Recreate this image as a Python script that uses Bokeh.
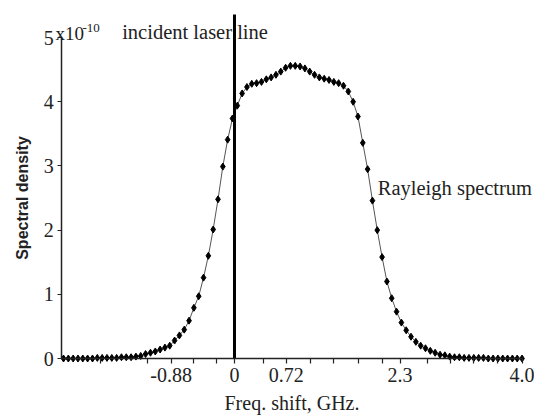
from bokeh.plotting import figure
from bokeh.models import Range1d, FixedTicker, Label, ColumnDataSource
from bokeh.embed import file_html
from bokeh.resources import INLINE

# ---- data ----
freq_ghz = [-2.375, -2.308, -2.241, -2.174, -2.107, -2.040, -1.972, -1.905, -1.838, -1.771,
            -1.704, -1.637, -1.570, -1.503, -1.436, -1.369, -1.302, -1.235, -1.167, -1.100,
            -1.033, -0.966, -0.899, -0.832, -0.765, -0.698, -0.631, -0.564, -0.497, -0.430,
            -0.363, -0.296, -0.229, -0.162, -0.095, -0.028, 0.039, 0.106, 0.173, 0.240,
            0.307, 0.375, 0.442, 0.509, 0.576, 0.643, 0.710, 0.777, 0.844, 0.911,
            0.978, 1.045, 1.112, 1.179, 1.246, 1.313, 1.380, 1.447, 1.514, 1.581,
            1.648, 1.715, 1.782, 1.849, 1.916, 1.983, 2.050, 2.117, 2.184, 2.251,
            2.318, 2.385, 2.452, 2.519, 2.586, 2.653, 2.720, 2.787, 2.855, 2.922,
            2.989, 3.056, 3.123, 3.190, 3.257, 3.324, 3.391, 3.458, 3.525, 3.592,
            3.659, 3.726, 3.793, 3.860, 3.927, 3.994]
density_e10 = [0.00, 0.00, 0.00, 0.00, 0.00, 0.00, 0.00, 0.01, 0.01, 0.01,
               0.01, 0.01, 0.02, 0.02, 0.02, 0.03, 0.04, 0.07, 0.09, 0.11,
               0.14, 0.17, 0.20, 0.28, 0.36, 0.45, 0.59, 0.79, 0.97, 1.26,
               1.60, 2.01, 2.48, 2.99, 3.41, 3.74, 3.94, 4.13, 4.23, 4.28,
               4.29, 4.31, 4.35, 4.38, 4.42, 4.47, 4.53, 4.56, 4.56, 4.55,
               4.52, 4.47, 4.42, 4.38, 4.36, 4.34, 4.31, 4.29, 4.25, 4.16,
               4.00, 3.77, 3.36, 2.95, 2.46, 2.00, 1.58, 1.20, 0.94, 0.73,
               0.56, 0.44, 0.34, 0.26, 0.20, 0.16, 0.12, 0.09, 0.06, 0.05,
               0.03, 0.02, 0.02, 0.01, 0.01, 0.01, 0.01, 0.01, 0.00, 0.00,
               0.00, 0.00, 0.00, 0.00, 0.00, 0.00]

x_tick_values = [-0.88, 0, 0.72, 2.3, 4.0]
x_tick_labels = ["-0.88", "0", "0.72", "2.3", "4.0"]
x_minor_ticks = [-1.86, -1.21, -0.57, -0.25, 0.40, 1.06, 1.38, 1.72, 2.06, 2.68, 3.0, 3.32, 3.65]
y_tick_values = [0, 1, 2, 3, 4, 5]
x_axis_start, x_axis_end = -2.40, 4.0
y_axis_start, y_axis_end = 0, 5
laser_line_ghz = 0.0
laser_line_top = 5.36

SERIF = "Liberation Serif"
INK = "#222222"

p = figure(width=534, height=419, output_backend="svg", toolbar_location=None,
           x_range=Range1d(-3.25, 4.167), y_range=Range1d(-0.950, 5.578),
           min_border_left=0, min_border_right=0, min_border_top=0, min_border_bottom=0)
p.outline_line_color = None
p.grid.visible = False
p.background_fill_color = "white"
p.border_fill_color = "white"

src = ColumnDataSource(dict(x=freq_ghz, y=density_e10))
p.line("x", "y", source=src, line_color="#555555", line_width=1)
p.scatter("x", "y", source=src, marker="diamond", size=7, fill_color="black", line_color="black")

# incident laser line
p.segment(x0=[laser_line_ghz], y0=[y_axis_start], x1=[laser_line_ghz], y1=[laser_line_top],
          line_color="black", line_width=3)

# axes (placed at fixed data locations so the frame can hold all texts)
xa = p.xaxis[0]
xa.ticker = FixedTicker(ticks=x_tick_values, minor_ticks=x_minor_ticks)
xa.major_label_overrides = {v: l for v, l in zip(x_tick_values, x_tick_labels)}
xa.bounds = (x_axis_start, x_axis_end)
xa.fixed_location = y_axis_start
xa.axis_label = "Freq. shift, GHz."
ya = p.yaxis[0]
ya.ticker = FixedTicker(ticks=y_tick_values)
ya.bounds = (y_axis_start, y_axis_end)
ya.fixed_location = x_axis_start
ya.axis_label = "Spectral density"

for ax in (xa, ya):
    ax.axis_line_color = INK
    ax.axis_line_width = 1.5
    ax.major_tick_line_color = INK
    ax.minor_tick_line_color = INK
    ax.major_tick_line_width = 1.2
    ax.minor_tick_line_width = 1.2
    ax.major_tick_in = 0
    ax.major_tick_out = 5
    ax.minor_tick_in = 0
    ax.minor_tick_out = 5
    ax.major_label_text_font = SERIF
    ax.major_label_text_font_size = "20px"
    ax.major_label_text_color = INK
    ax.major_label_standoff = 4

ya.minor_tick_line_color = None
ya.major_tick_out = 4
xa.axis_label_text_font = SERIF
xa.axis_label_text_font_style = "normal"
xa.axis_label_text_font_size = "20px"
xa.axis_label_text_color = INK
xa.axis_label_standoff = 7
ya.axis_label_text_font = "Liberation Sans"
ya.axis_label_text_font_style = "bold"
ya.axis_label_text_font_size = "16px"
ya.axis_label_text_color = INK
ya.axis_label_standoff = 10

# annotations
p.add_layout(Label(x=55, y=33, x_units="canvas", y_units="canvas",
                   text="x10", text_font=SERIF, text_font_size="19px",
                   text_baseline="alphabetic", text_color=INK))
p.add_layout(Label(x=82, y=27, x_units="canvas", y_units="canvas",
                   text="-10", text_font=SERIF, text_font_size="13px",
                   text_baseline="alphabetic", text_color=INK))
p.add_layout(Label(x=-1.56, y=5.08, text="incident laser line", text_font=SERIF,
                   text_font_size="20.5px", text_baseline="alphabetic", text_color=INK))
p.add_layout(Label(x=1.99, y=2.65, text="Rayleigh spectrum", text_font=SERIF,
                   text_font_size="20.5px", text_baseline="alphabetic", text_color=INK))

open("out.html", "w").write(file_html(p, INLINE))
